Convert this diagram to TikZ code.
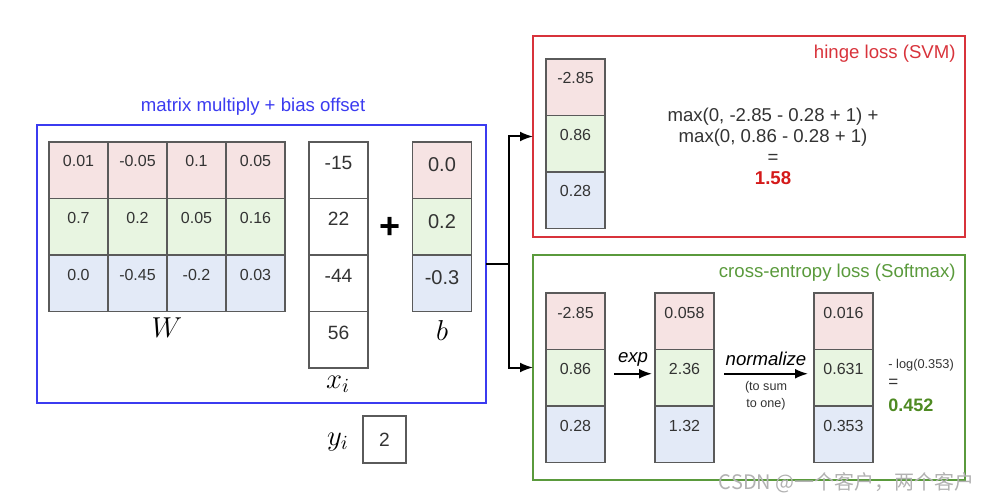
\documentclass[tikz,border=0pt]{standalone}
\usepackage{fontspec}
\setmainfont{Liberation Sans}
\newfontfamily\cjkfont{Noto Sans CJK SC}
\usetikzlibrary{positioning,arrows.meta}

\definecolor{rowred}{HTML}{F6E3E3}
\definecolor{rowgreen}{HTML}{E8F5E1}
\definecolor{rowblue}{HTML}{E3EAF7}
\definecolor{cellline}{HTML}{5A5A5A}
\definecolor{celltext}{HTML}{333333}
\definecolor{mmblue}{HTML}{3B3BF0}
\definecolor{svmred}{HTML}{D8333B}
\definecolor{smgreen}{HTML}{5A9A3C}
\definecolor{lossred}{HTML}{D41A1A}
\definecolor{lossgreen}{HTML}{4E8A22}

\tikzset{
  cell/.style={draw=cellline, line width=0.6pt, minimum width=29.5pt, minimum height=28.25pt,
    inner sep=0pt, outer sep=0pt, text=celltext, text height=12.5pt, text depth=15.75pt,
    font=\fontsize{8}{9.6}\selectfont},
  xcell/.style={cell, text height=13.75pt, text depth=14.5pt, font=\fontsize{9.6}{11}\selectfont},
  bcell/.style={cell, text height=14.75pt, text depth=13.5pt, font=\fontsize{10}{12}\selectfont},
  redrow/.style={fill=rowred},
  greenrow/.style={fill=rowgreen},
  bluerow/.style={fill=rowblue},
  lossbox/.style={line width=1pt, minimum width=216pt, inner sep=0pt, outer sep=0pt},
  title/.style={font=\fontsize{9.3}{10.5}\selectfont},
  symb/.style={font=\fontsize{14.5}{16}\selectfont, text=black},
}

\begin{document}
\begin{tikzpicture}[x=0.5pt, y=-0.5pt, >={Latex[length=6.5pt,width=5pt]}]
  \useasboundingbox (0,0) rectangle (990,502);

  % The three frames
  \node[draw=mmblue, line width=1pt, minimum width=224.5pt, minimum height=139pt, outer sep=0pt] (mmbox) at (261.5,264) {};
  \node[draw=svmred, lossbox, minimum height=100.5pt] (hinge) at (749,136.5) {};
  \node[draw=smgreen, lossbox, minimum height=112.5pt] (softmax) at (749,367.5) {};

  \node[title, text=mmblue] (mmtitle) at (253,107) {matrix multiply + bias offset};
  \node[title, text=svmred, anchor=east, inner sep=0pt] (hingetitle) at (956,54) {hinge loss (SVM)};
  \node[title, text=smgreen, anchor=east, inner sep=0pt] (smtitle) at (956,273) {cross-entropy loss (Softmax)};

  % W matrix
  \node[cell, redrow] (w11) at (78.5,170.25) {0.01};
  \node[cell, redrow, right=0pt of w11] (w12) {-0.05};
  \node[cell, redrow, right=0pt of w12] (w13) {0.1};
  \node[cell, redrow, right=0pt of w13] (w14) {0.05};
  \node[cell, greenrow, below=0pt of w11] (w21) {0.7};
  \node[cell, greenrow, right=0pt of w21] (w22) {0.2};
  \node[cell, greenrow, right=0pt of w22] (w23) {0.05};
  \node[cell, greenrow, right=0pt of w23] (w24) {0.16};
  \node[cell, bluerow, below=0pt of w21] (w31) {0.0};
  \node[cell, bluerow, right=0pt of w31] (w32) {-0.45};
  \node[cell, bluerow, right=0pt of w32] (w33) {-0.2};
  \node[cell, bluerow, right=0pt of w33] (w34) {0.03};
  \node[symb] (wlabel) at (167,328) {$W$};

  % image column x_i
  \node[xcell] (x1) at (338.5,170.25) {-15};
  \node[xcell, below=0pt of x1] (x2) {22};
  \node[xcell, below=0pt of x2] (x3) {-44};
  \node[xcell, below=0pt of x3] (x4) {56};
  \node[symb] (xlabel) at (338,384) {$x_i$};

  \node[font=\fontsize{18}{20}\selectfont\bfseries] (plus) at (390,228) {+};

  % bias column b
  \node[bcell, redrow] (b1) at (442,170.25) {0.0};
  \node[bcell, greenrow, below=0pt of b1] (b2) {0.2};
  \node[bcell, bluerow, below=0pt of b2] (b3) {-0.3};
  \node[symb] (blabel) at (442,330) {$b$};

  % label y_i
  \node[draw=cellline, line width=0.6pt, minimum width=21.5pt, minimum height=23.5pt,
    font=\fontsize{9.6}{11}\selectfont, text=celltext] (yibox) at (384.5,439.5) {2};
  \node[symb] (ylabel) at (338,442) {$y_i$};

  % split to the two losses
  \coordinate (split) at (509,264);
  \draw[line width=1pt] (mmbox.east) -- (split);
  \draw[->, line width=1pt] (split) |- (hinge.west);
  \draw[->, line width=1pt] (split) |- (softmax.west);

  % hinge loss
  \node[cell, redrow] (h1) at (575.5,87.25) {-2.85};
  \node[cell, greenrow, below=0pt of h1] (h2) {0.86};
  \node[cell, bluerow, below=0pt of h2] (h3) {0.28};
  \node[title, align=center, text=celltext] (hingecalc) at (773,146)
    {max(0, -2.85 - 0.28 + 1) +\\max(0, 0.86 - 0.28 + 1)\\=\\{\color{lossred}\bfseries 1.58}};

  % softmax loss
  \node[cell, redrow] (sa1) at (575.5,321.25) {-2.85};
  \node[cell, greenrow, below=0pt of sa1] (sa2) {0.86};
  \node[cell, bluerow, below=0pt of sa2] (sa3) {0.28};
  \node[cell, redrow] (sb1) at (684.5,321.25) {0.058};
  \node[cell, greenrow, below=0pt of sb1] (sb2) {2.36};
  \node[cell, bluerow, below=0pt of sb2] (sb3) {1.32};
  \node[cell, redrow] (sc1) at (843.5,321.25) {0.016};
  \node[cell, greenrow, below=0pt of sc1] (sc2) {0.631};
  \node[cell, bluerow, below=0pt of sc2] (sc3) {0.353};

  \draw[->, line width=1pt] ([shift={(9,-4)}]sa2.east) -- node[above, title, text=black, font=\fontsize{9.3}{10.5}\selectfont\itshape] (exptxt) {exp} ([shift={(-3,-4)}]sb2.west);
  \draw[->, line width=1pt] ([shift={(10,-4)}]sb2.east) -- node[above, title, text=black, font=\fontsize{9.3}{10.5}\selectfont\itshape] (normtxt) {normalize}
    node[below, align=center, text=celltext, font=\fontsize{6.3}{8.5}\selectfont] (sumtxt) {(to sum\\to one)} ([shift={(-6,-4)}]sc2.west);

  \node[anchor=west, inner sep=0pt, text=celltext, font=\fontsize{6.4}{7}\selectfont] (logtxt) at (888,365) {- log(0.353)};
  \node[anchor=west, inner sep=0pt, text=celltext, font=\fontsize{8.5}{9}\selectfont] (eqtxt) at (888,383) {=};
  \node[anchor=west, inner sep=0pt, text=lossgreen, font=\fontsize{9}{11}\selectfont\bfseries] (celoss) at (888,405) {0.452};

  % watermark
  \node[anchor=east, inner sep=0pt, text=gray!60, font=\cjkfont\fontsize{10}{12}\selectfont] (mark) at (975,483) {CSDN @一个客户，两个客户};
\end{tikzpicture}
\end{document}
